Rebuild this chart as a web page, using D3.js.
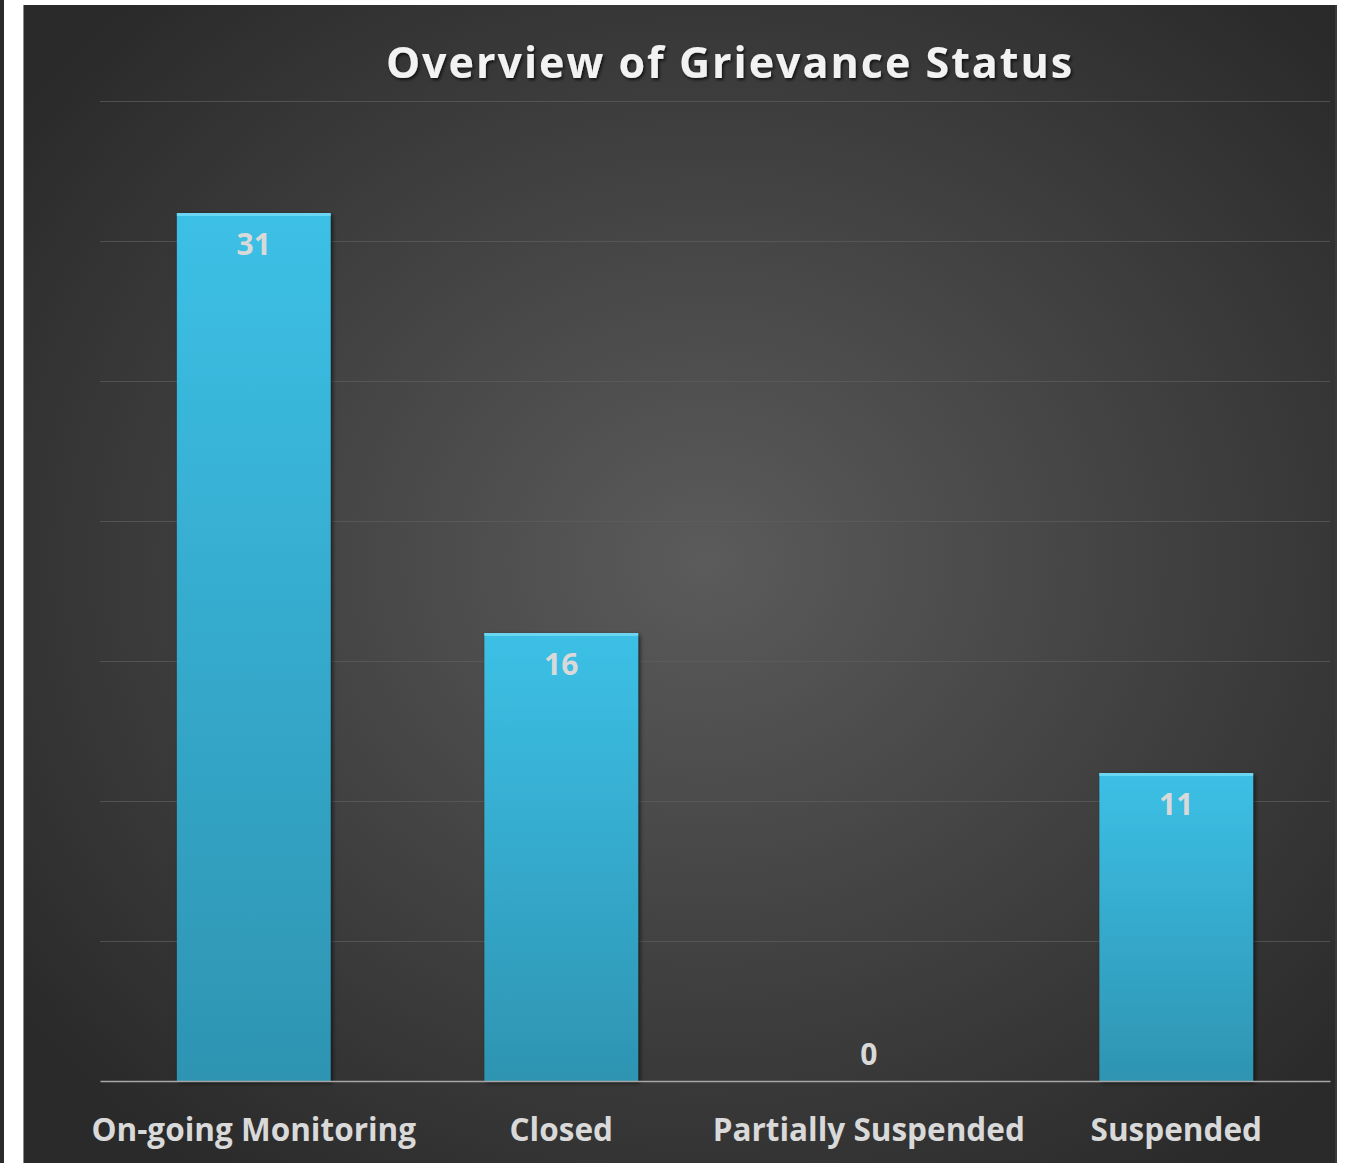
<!DOCTYPE html>
<html><head><meta charset="utf-8">
<script src="https://cdn.jsdelivr.net/npm/d3@7"></script>
<style>html,body{margin:0;padding:0;background:#fff;}</style>
</head><body>
<script>
const categories = ["On-going Monitoring", "Closed", "Partially Suspended", "Suspended"];
const values = [31, 16, 0, 11];
const yTicks = [0, 5, 10, 15, 20, 25, 30, 35];
const title = "Overview of Grievance Status";

(function(){
const W = 1352, H = 1163;
const svg = d3.select("body").append("svg").attr("width", W).attr("height", H);
const defs = svg.append("defs");

const bg = defs.append("radialGradient").attr("id","bg").attr("cx","52%").attr("cy","48%").attr("r","65%");
bg.append("stop").attr("offset","0%").attr("stop-color","#5b5b5b");
bg.append("stop").attr("offset","100%").attr("stop-color","#2a2a2a");

const barG = defs.append("linearGradient").attr("id","barg").attr("x1",0).attr("y1",0).attr("x2",0).attr("y2",1);
barG.append("stop").attr("offset","0%").attr("stop-color","#3cc0e6");
barG.append("stop").attr("offset","100%").attr("stop-color","#2e94b2");

const sh = defs.append("filter").attr("id","sh").attr("x","-10%").attr("y","-10%").attr("width","130%").attr("height","130%");
sh.append("feDropShadow").attr("dx",2).attr("dy",2).attr("stdDeviation",2).attr("flood-color","#000").attr("flood-opacity",0.6);
const tsh = defs.append("filter").attr("id","tsh").attr("x","-5%").attr("y","-20%").attr("width","110%").attr("height","150%");
tsh.append("feDropShadow").attr("dx",1.5).attr("dy",2).attr("stdDeviation",1.5).attr("flood-color","#000").attr("flood-opacity",0.7);

svg.append("rect").attr("x",0).attr("y",0).attr("width",4).attr("height",H).attr("fill","#2b2b2b");
svg.append("rect").attr("x",23).attr("y",5).attr("width",1313).attr("height",H-5).attr("fill","url(#bg)");
svg.append("line").attr("x1",23.5).attr("x2",23.5).attr("y1",5).attr("y2",H).attr("stroke","#888").attr("stroke-width",1);
svg.append("rect").attr("x",1335).attr("y",5).attr("width",2).attr("height",H-5).attr("fill","#3a3a3a");

const pl = 100, pr = 1330, pt = 101, pb = 1081;
const x = d3.scaleBand().domain(categories).range([pl, pr]).paddingInner(0.5).paddingOuter(0.25);
const y = d3.scaleLinear().domain([0, 35]).range([pb, pt]);

svg.append("g").attr("class","grid")
  .attr("transform",`translate(${pl},0)`)
  .call(d3.axisLeft(y).tickValues(yTicks.filter(d=>d>0)).tickSize(-(pr-pl)).tickFormat(""))
  .call(g=>g.select(".domain").remove())
  .call(g=>g.selectAll("line").attr("stroke","#5e5e5e").attr("stroke-width",1).attr("stroke-opacity",0.7));

const bars = svg.append("g");
bars.selectAll("rect.bar").data(values).join("rect").attr("class","bar")
  .attr("x",(d,i)=>x(categories[i]))
  .attr("y",d=>y(d))
  .attr("width",x.bandwidth())
  .attr("height",d=>pb-y(d))
  .attr("fill","url(#barg)")
  .attr("filter","url(#sh)");
bars.selectAll("rect.hl").data(values).join("rect").attr("class","hl")
  .attr("x",(d,i)=>x(categories[i]))
  .attr("y",d=>y(d))
  .attr("width",x.bandwidth())
  .attr("height",d=>d>0?3:0)
  .attr("fill","#6ad6f2");

svg.append("g").attr("transform",`translate(0,${pb})`)
  .call(d3.axisBottom(x).tickSize(0).tickFormat(""))
  .call(g=>g.select(".domain").attr("stroke","#a6a6a6").attr("stroke-width",1.5));

const font = "'Open Sans', Lato, sans-serif";
svg.append("g").selectAll("text").data(values).join("text")
  .attr("x",(d,i)=>x(categories[i])+x.bandwidth()/2)
  .attr("y",d=> d>0 ? y(d)+42 : y(d)-16)
  .attr("text-anchor","middle")
  .attr("font-family",font).attr("font-weight","bold").attr("font-size",30)
  .attr("fill","#d9d9d9")
  .text(d=>d);

svg.append("g").selectAll("text").data(categories).join("text")
  .attr("x",d=>x(d)+x.bandwidth()/2)
  .attr("y",1141)
  .attr("text-anchor","middle")
  .attr("font-family",font).attr("font-weight","bold").attr("font-size",31.5)
  .attr("fill","#d9d9d9")
  .text(d=>d);

svg.append("text").attr("x",730).attr("y",78).attr("text-anchor","middle")
  .attr("font-family",font).attr("font-weight","bold").attr("font-size",43)
  .attr("fill","#f2f2f2").attr("letter-spacing",2).attr("filter","url(#tsh)")
  .text(title);
})();
</script>
</body></html>
